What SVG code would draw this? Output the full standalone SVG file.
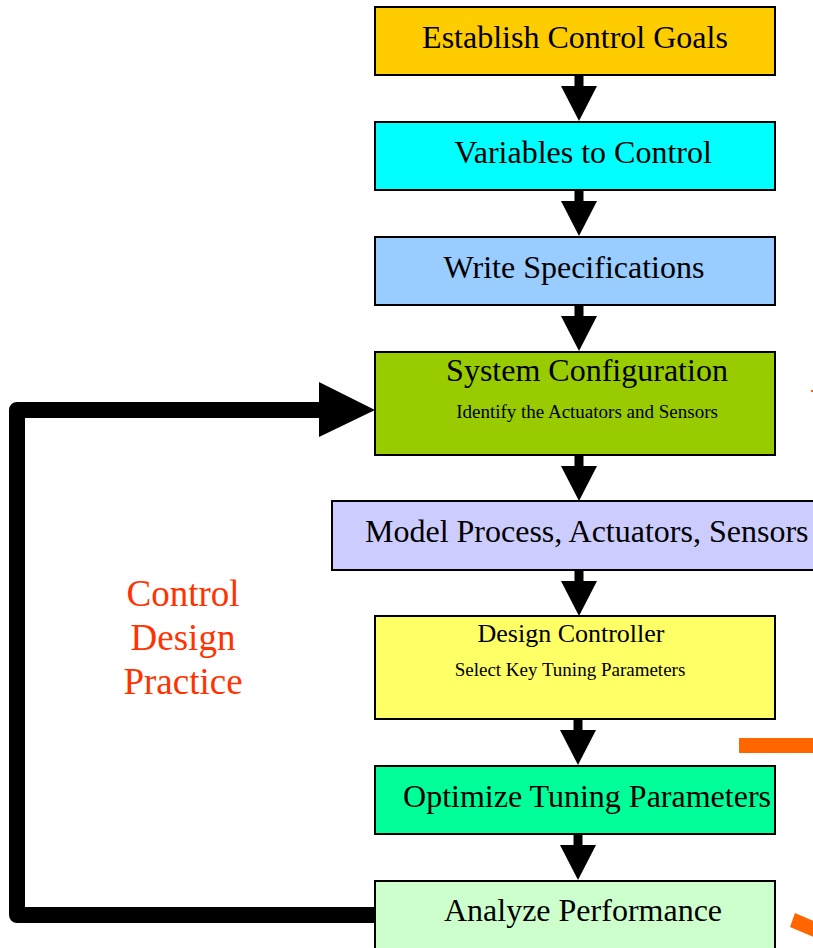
<svg xmlns="http://www.w3.org/2000/svg" width="813" height="948" viewBox="0 0 813 948">
  <style>
    .box { stroke: #000; stroke-width: 2; }
    .t { font-family: "Liberation Serif", "Times New Roman", serif; fill: #000; text-anchor: middle; }
    .big { font-size: 32px; }
    .mid { font-size: 26px; }
    .small { font-size: 19px; }
    .red { font-family: "Liberation Serif", "Times New Roman", serif; fill: #FF3300; font-size: 37px; text-anchor: middle; }
    .shaft { fill: #000; }
    .orange { fill: #FF6600; }
  </style>
  <defs>
    <!-- down arrow: shaft + triangular head, origin at top centre -->
    <g id="down-arrow">
      <rect class="shaft" x="-4.5" y="0" width="9" height="12"/>
      <polygon points="-18,11 18,11 0,46" fill="#000"/>
    </g>
  </defs>
  <rect width="813" height="948" fill="#fff"/>

  <g id="connectors">
    <use href="#down-arrow" x="579" y="75"/>
    <use href="#down-arrow" x="579" y="190"/>
    <use href="#down-arrow" x="579" y="305"/>
    <use href="#down-arrow" x="579" y="455"/>
    <use href="#down-arrow" x="579" y="570"/>
    <use href="#down-arrow" x="578" y="719"/>
    <use href="#down-arrow" x="578" y="834"/>
    <!-- feedback loop from Analyze Performance back to System Configuration -->
    <path d="M376,915 H17 V410 H322" fill="none" stroke="#000" stroke-width="16" stroke-linejoin="round"/>
    <polygon points="319,382 375,410 319,437" fill="#000"/>
  </g>

  <g id="goals">
    <rect class="box" x="375" y="7" width="400" height="68" fill="#FFCC00"/>
    <text class="t big" x="575" y="48">Establish Control Goals</text>
  </g>
  <g id="variables">
    <rect class="box" x="375" y="122" width="400" height="68" fill="#00FFFF"/>
    <text class="t big" x="583" y="163">Variables to Control</text>
  </g>
  <g id="specs">
    <rect class="box" x="375" y="237" width="400" height="68" fill="#99CCFF"/>
    <text class="t big" x="574" y="278">Write Specifications</text>
  </g>
  <g id="config">
    <rect class="box" x="375" y="352" width="400" height="103" fill="#99CC00"/>
    <text class="t big" x="587" y="381">System Configuration</text>
    <text class="t small" x="587" y="418">Identify the Actuators and Sensors</text>
  </g>
  <g id="model">
    <rect class="box" x="332" y="501" width="490" height="69" fill="#CCCCFF"/>
    <text class="t big" x="365" y="542" style="text-anchor:start">Model Process, Actuators, Sensors</text>
  </g>
  <g id="design">
    <rect class="box" x="375" y="616" width="400" height="103" fill="#FFFF66"/>
    <text class="t mid" x="571" y="642">Design Controller</text>
    <text class="t small" x="570" y="676">Select Key Tuning Parameters</text>
  </g>
  <g id="optimize">
    <rect class="box" x="375" y="766" width="400" height="68" fill="#00FF99"/>
    <text class="t big" x="587" y="807">Optimize Tuning Parameters</text>
  </g>
  <g id="analyze">
    <rect class="box" x="375" y="881" width="400" height="80" fill="#CCFFCC"/>
    <text class="t big" x="583" y="921">Analyze Performance</text>
  </g>

  <g id="label">
    <text class="red" x="183" y="606">Control</text>
    <text class="red" x="183" y="650">Design</text>
    <text class="red" x="183" y="694">Practice</text>
  </g>

  <g id="edge-marks">
    <rect class="orange" x="739" y="738" width="80" height="15"/>
    <polygon class="orange" points="795,913 830,928 825,942 790,927"/>
    <rect class="orange" x="811" y="390" width="2" height="2"/>
  </g>
</svg>
